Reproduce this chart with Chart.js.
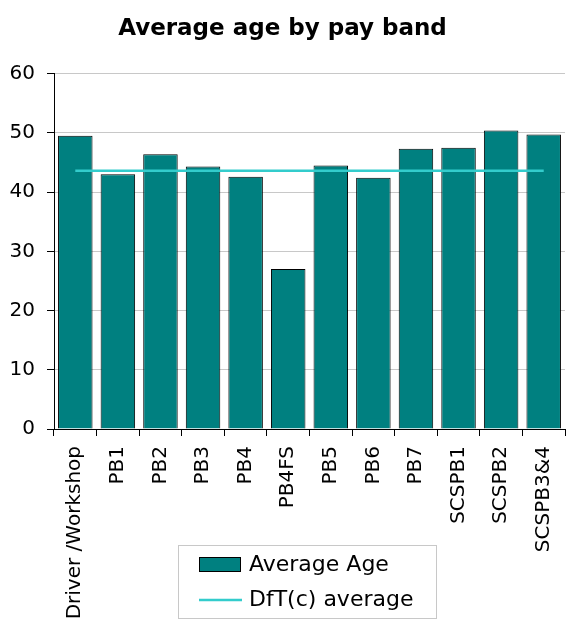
<!DOCTYPE html>
<html>
<head>
<meta charset="utf-8">
<script src="https://cdn.jsdelivr.net/npm/chart.js@4"></script>
<style>
  html, body { margin: 0; padding: 0; background: #fff; }
  #wrap { width: 566px; height: 641px; }
</style>
</head>
<body>
<div id="wrap"><canvas id="ageChart"></canvas></div>
<script>
// Pay bands and average ages
const payBands = ['Driver /Workshop', 'PB1', 'PB2', 'PB3', 'PB4', 'PB4FS', 'PB5', 'PB6', 'PB7', 'SCSPB1', 'SCSPB2', 'SCSPB3&4'];
const averageAge = [49.5, 43.0, 46.4, 44.3, 42.6, 27.0, 44.5, 42.4, 47.3, 47.5, 50.4, 49.7];
const dftAverage = [43.6, 43.6, 43.6, 43.6, 43.6, 43.6, 43.6, 43.6, 43.6, 43.6, 43.6, 43.6];
const yTicks = [0, 10, 20, 30, 40, 50, 60];

const FONT = 'DejaVu Sans';

// draws the boxed legend under the short labels
const boxLegend = {
  id: 'boxLegend',
  afterDraw(chart) {
    const ctx = chart.ctx;
    const ds = chart.data.datasets;
    const x = 178, y = 545, w = 258, h = 73;
    ctx.save();
    ctx.strokeStyle = '#c8c8c8';
    ctx.lineWidth = 1;
    ctx.strokeRect(x + 0.5, y + 0.5, w, h);

    // bar swatch
    ctx.fillStyle = ds[0].backgroundColor;
    ctx.fillRect(199, 557, 42, 15);
    ctx.strokeStyle = '#000';
    ctx.strokeRect(199.5, 557.5, 41, 14);

    // line swatch
    ctx.strokeStyle = ds[1].borderColor;
    ctx.lineWidth = 2.5;
    ctx.beginPath();
    ctx.moveTo(199, 600);
    ctx.lineTo(242, 600);
    ctx.stroke();

    ctx.fillStyle = '#000';
    ctx.font = '22px "' + FONT + '"';
    ctx.textBaseline = 'middle';
    ctx.fillText(ds[0].label, 249, 565);
    ctx.fillText(ds[1].label, 249, 600);
    ctx.restore();
  }
};

const ctx = document.getElementById('ageChart').getContext('2d');
new Chart(ctx, {
  data: {
    labels: payBands,
    datasets: [{
      type: 'bar',
      label: 'Average Age',
      data: averageAge,
      backgroundColor: '#008080',
      borderColor: '#000',
      borderWidth: 1,
      categoryPercentage: 1,
      barPercentage: 0.81,
      order: 1
    }, {
      type: 'line',
      label: 'DfT(c) average',
      data: dftAverage,
      borderColor: '#33cccc',
      borderWidth: 2.5,
      pointRadius: 0,
      fill: false,
      order: 0
    }]
  },
  options: {
    responsive: true,
    maintainAspectRatio: false,
    animation: false,
    layout: { padding: { right: 1 } },
    plugins: {
      title: {
        display: true,
        text: 'Average age by pay band',
        color: '#000',
        font: { family: FONT, size: 23, weight: 'bold' },
        padding: { top: 15, bottom: 31 }
      },
      legend: { display: false },
      tooltip: { enabled: false }
    },
    scales: {
      x: {
        grid: { drawOnChartArea: false, tickLength: 7, tickColor: '#000', offset: true },
        border: { color: '#000' },
        ticks: {
          color: '#000',
          font: { family: FONT, size: 20 },
          minRotation: 90,
          maxRotation: 90,
          padding: 10,
          autoSkip: false
        },
        afterFit(scale) {
          scale.height = 212;
          scale.paddingLeft = 0;
          scale.paddingRight = 0;
        }
      },
      y: {
        min: 0,
        max: 60,
        grid: { color: '#c8c8c8', tickLength: 7, tickColor: '#000' },
        border: { color: '#000' },
        afterBuildTicks(scale) { scale.ticks = yTicks.map(v => ({ value: v })); },
        ticks: {
          color: '#000',
          font: { family: FONT, size: 20 },
          padding: 12
        },
        afterFit(scale) { scale.width = 54; }
      }
    }
  },
  plugins: [boxLegend]
});
</script>
</body>
</html>
